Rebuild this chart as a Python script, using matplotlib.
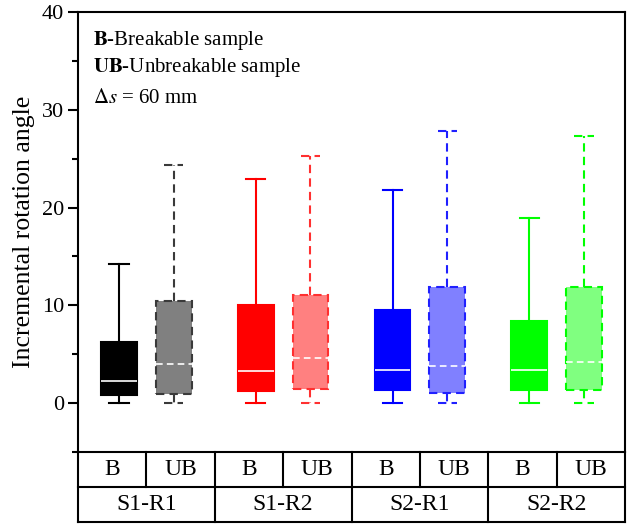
import matplotlib
matplotlib.use('Agg')
import matplotlib.pyplot as plt
import matplotlib.transforms as mtransforms
from matplotlib.ticker import MultipleLocator

plt.rcParams['font.family'] = 'Liberation Serif'
plt.rcParams['mathtext.fontset'] = 'stix'

groups = ['S1-R1', 'S1-R2', 'S2-R1', 'S2-R2']
samples = ['B', 'UB']

# box statistics per sample, order: S1-R1 B, S1-R1 UB, S1-R2 B, ...
whisker_lo = [0.0, 0.0, 0.0, 0.0, 0.0, 0.0, 0.0, 0.0]
q1 = [0.85, 0.98, 1.19, 1.46, 1.29, 1.05, 1.29, 1.39]
median = [2.3, 3.95, 3.26, 4.62, 3.43, 3.84, 3.4, 4.25]
q3 = [6.2, 10.4, 10.0, 11.1, 9.55, 11.83, 8.43, 11.83]
whisker_hi = [14.2, 24.4, 22.9, 25.3, 21.8, 27.8, 18.9, 27.3]

fill_colors = ['#000000', '#808080', '#ff0000', '#ff8080',
               '#0000ff', '#8080ff', '#00ff00', '#80ff80']
edge_colors = ['#000000', '#3a3a3a', '#ff0000', '#ff3030',
               '#0000ff', '#2020ff', '#00ff00', '#00ff00']

fig = plt.figure(figsize=(6.29, 5.24), dpi=100)
ax = fig.add_axes([78 / 629, 1 - 452 / 524, 547 / 629, 440 / 524])

offset = 0.2
positions = []
for g in range(len(groups)):
    positions += [g + 1 - offset, g + 1 + offset]

dash = (0, (4, 2.5))
for i in range(len(positions)):
    stats = [dict(whislo=whisker_lo[i], q1=q1[i], med=median[i],
                  q3=q3[i], whishi=whisker_hi[i])]
    ub = i % 2 == 1
    ls = dash if ub else '-'
    ax.bxp(stats, positions=[positions[i]], widths=0.26, capwidths=0.14,
           showfliers=False, patch_artist=True,
           boxprops=dict(facecolor=fill_colors[i], edgecolor=edge_colors[i],
                         linewidth=1.5, linestyle=ls),
           whiskerprops=dict(color=edge_colors[i], linewidth=1.5, linestyle=ls),
           capprops=dict(color=edge_colors[i], linewidth=1.5, linestyle=ls),
           medianprops=dict(color='white', linewidth=1.2, linestyle=ls))

ax.set_xlim(0.5, 4.5)
ax.set_ylim(-5, 40)
ax.set_xticks([])
ax.yaxis.set_major_locator(MultipleLocator(10))
ax.yaxis.set_minor_locator(MultipleLocator(5))
ax.tick_params(axis='y', which='major', direction='out', length=7, width=1.5,
               labelsize=16, pad=3)
ax.tick_params(axis='y', which='minor', direction='out', length=4, width=1.5)
for s in ax.spines.values():
    s.set_linewidth(1.5)
ax.set_ylabel('Incremental rotation angle', fontsize=18.5, labelpad=5)

ax.text(0.028, 0.962, r'$\mathbf{B}$-Breakable sample', transform=ax.transAxes,
        fontsize=15, va='top')
ax.text(0.028, 0.900, r'$\mathbf{UB}$-Unbreakable sample', transform=ax.transAxes,
        fontsize=15, va='top')
ax.text(0.028, 0.826, r'$\Delta\mathit{s}$ = 60 mm', transform=ax.transAxes,
        fontsize=15, va='top')

# category table under the plot
trans = mtransforms.blended_transform_factory(ax.transData, ax.transAxes)
row = 35 / 440
kw = dict(color='black', linewidth=1.5, transform=trans, clip_on=False)
ax.plot([0.5, 4.5], [-row, -row], **kw)
ax.plot([0.5, 4.5], [-2 * row, -2 * row], **kw)
for g in range(len(groups) + 1):
    ax.plot([g + 0.5, g + 0.5], [0, -2 * row], **kw)
for g in range(len(groups)):
    ax.plot([g + 1, g + 1], [0, -row], **kw)
    for k, lab in enumerate(samples):
        ax.text(g + 0.75 + 0.5 * k, -row / 2, lab, transform=trans,
                ha='center', va='center', fontsize=17)
    ax.text(g + 1, -1.5 * row, groups[g], transform=trans,
            ha='center', va='center', fontsize=17)

fig.savefig('out.png', dpi=100)
